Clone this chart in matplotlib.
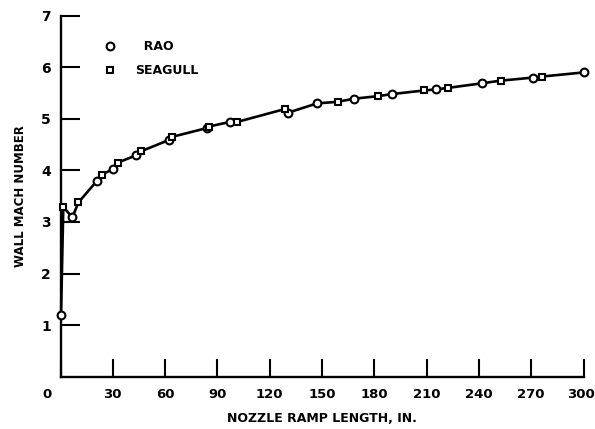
import matplotlib.pyplot as plt
import matplotlib.transforms as mtransforms

# nozzle ramp length (in.) and wall Mach number
rao_x = [0.3, 6.8, 20.7, 29.9, 43.1, 62.2, 83.8, 97.1, 130.5, 147.2, 168.2,
         190.1, 215.2, 241.9, 270.9, 300.0]
rao_m = [1.20, 3.09, 3.79, 4.02, 4.29, 4.59, 4.82, 4.94, 5.12, 5.30, 5.39,
         5.48, 5.57, 5.69, 5.80, 5.90]

seagull_x = [1.6, 10.3, 23.6, 32.8, 46.1, 63.9, 85.1, 101.3, 128.7, 158.9,
             182.1, 208.5, 222.2, 252.4, 276.1]
seagull_m = [3.29, 3.38, 3.92, 4.15, 4.37, 4.65, 4.85, 4.94, 5.19, 5.33,
             5.44, 5.55, 5.60, 5.74, 5.82]

x_ticks = [0, 30, 60, 90, 120, 150, 180, 210, 240, 270, 300]
y_ticks = [1, 2, 3, 4, 5, 6, 7]

plt.rcParams['font.family'] = 'DejaVu Sans'
plt.rcParams['font.weight'] = 'bold'

fig = plt.figure(figsize=(5.95, 4.29), dpi=100)
ax = fig.add_axes([0.1017, 0.1219, 0.879, 0.8415])

# faired curve through all points
pts = sorted(zip(rao_x + seagull_x, rao_m + seagull_m))
ax.plot([p[0] for p in pts], [p[1] for p in pts], color='black', lw=1.9,
        zorder=2, clip_on=False)
ax.plot(rao_x, rao_m, linestyle='none', marker='o', ms=5.6, mfc='white',
        mec='black', mew=1.5, label='  RAO', zorder=3, clip_on=False)
ax.plot(seagull_x, seagull_m, linestyle='none', marker='s', ms=5.0,
        mfc='white', mec='black', mew=1.5, label='SEAGULL', zorder=3,
        clip_on=False)

ax.set_xlim(0, 300)
ax.set_ylim(0, 7)
ax.set_xticks(x_ticks)
ax.set_yticks(y_ticks)
ax.spines['top'].set_visible(False)
ax.spines['right'].set_visible(False)
for s in ('left', 'bottom'):
    ax.spines[s].set_linewidth(1.7)
ax.tick_params(axis='y', direction='in', length=14, width=1.5, pad=7,
               labelsize=10)
ax.tick_params(axis='x', direction='in', length=13, width=1.5, pad=8,
               labelsize=9.5)

# the "0" label sits left of the corner, "300" is pulled in a little
xl = ax.get_xticklabels()
xl[0].set_transform(xl[0].get_transform() +
                    mtransforms.ScaledTranslation(-0.14, 0, fig.dpi_scale_trans))
xl[-1].set_transform(xl[-1].get_transform() +
                     mtransforms.ScaledTranslation(-0.03, 0, fig.dpi_scale_trans))

ax.set_xlabel('NOZZLE RAMP LENGTH, IN.', fontsize=9, fontweight='bold',
              labelpad=8)
ax.set_ylabel('WALL MACH NUMBER', fontsize=8.5, fontweight='bold',
              labelpad=10)

ax.legend(loc='upper left', bbox_to_anchor=(0.083, 0.933), frameon=False,
          fontsize=9, handlelength=1, handletextpad=1.5, labelspacing=0.9,
          borderpad=0, borderaxespad=0, numpoints=1)

fig.savefig('out.png', dpi=100)
